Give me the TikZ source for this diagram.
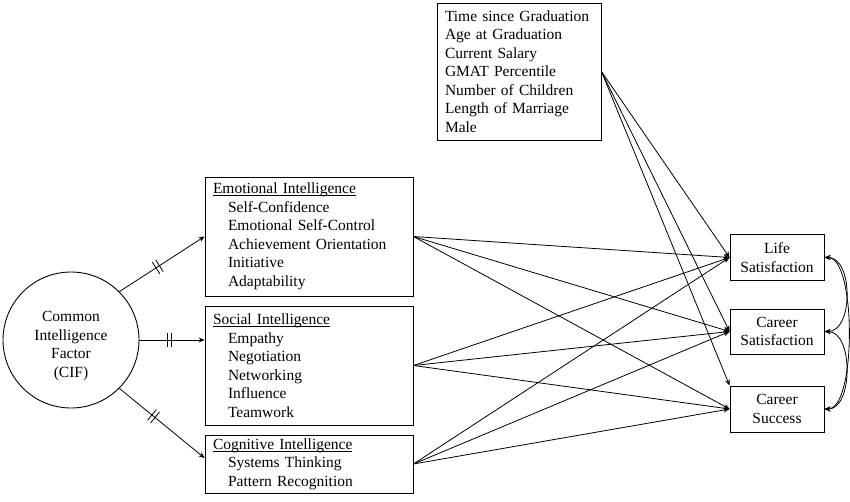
\documentclass[tikz,border=0pt]{standalone}
\usepackage{fontspec}
\setmainfont{Liberation Serif}
\usetikzlibrary{arrows.meta}
\newcommand\ulx[1]{\setbox0\hbox{#1}\rlap{\vrule height -1.4pt depth 2.3pt width \wd0}\box0}
\begin{document}
\begin{tikzpicture}[x=1pt,y=-1pt,
  txt/.style={font=\fontsize{15.5}{18.5}\selectfont},
  box/.style={draw, line width=0.9pt, rectangle, inner xsep=8pt, inner ysep=0pt, align=left, txt},
  rbox/.style={draw, line width=0.9pt, rectangle, inner sep=0pt, align=center, txt, minimum width=94pt},
  arr/.style={-{Stealth[length=6pt,width=5pt]}, line width=0.8pt},
  dbl/.style={{Stealth[length=6pt,width=5pt]}-{Stealth[length=6pt,width=5pt]}, line width=0.8pt},
  dtick/.pic={\draw[-, line width=0.8pt] (-2,-7) -- (-2,7) (2,-7) -- (2,7);}
]
\useasboundingbox (0,0) rectangle (850,502);

\node[draw, circle, line width=0.9pt, minimum size=136pt, inner sep=0pt] (cif) at (71,340) {};
\node[align=center, txt, inner sep=0pt] (ciftxt) at (71,346)
  {Common\\Intelligence\\Factor\\(CIF)};

\node[box, text width=192pt, minimum height=119pt] (emo) at (309,236.5)
  {\ulx{Emotional Intelligence}\\
   \hspace*{15pt}Self-Confidence\\
   \hspace*{15pt}Emotional Self-Control\\
   \hspace*{15pt}Achievement Orientation\\
   \hspace*{15pt}Initiative\\
   \hspace*{15pt}Adaptability};

\node[box, text width=192pt, minimum height=119pt] (soc) at (309,365.5)
  {\ulx{Social Intelligence}\\
   \hspace*{15pt}Empathy\\
   \hspace*{15pt}Negotiation\\
   \hspace*{15pt}Networking\\
   \hspace*{15pt}Influence\\
   \hspace*{15pt}Teamwork};

\node[box, text width=192pt, minimum height=58pt] (cog) at (309,464)
  {\ulx{Cognitive Intelligence}\\
   \hspace*{15pt}Systems Thinking\\
   \hspace*{15pt}Pattern Recognition};

\node[box, text width=148pt, minimum height=137pt] (ctl) at (519,71.5)
  {Time since Graduation\\
   Age at Graduation\\
   Current Salary\\
   GMAT Percentile\\
   Number of Children\\
   Length of Marriage\\
   Male};

\node[rbox, minimum height=46pt] (life) at (777,257.5) {Life\\Satisfaction};
\node[rbox, minimum height=45pt] (csat) at (777,331.5) {Career\\Satisfaction};
\node[rbox, minimum height=46pt] (succ) at (777,409) {Career\\Success};

% CIF to intelligences
\draw[arr] (cif.45) -- (emo.west) pic[pos=0.45, sloped]{dtick};
\draw[arr] (cif.east) -- (cif.east -| soc.west) pic[pos=0.46, sloped]{dtick};
\draw[arr] (cif.-45) -- ([yshift=6pt]cog.west) pic[pos=0.4, sloped]{dtick};

% intelligences to outcomes
\foreach \s in {emo,soc,cog}{
  \draw[arr] (\s.east) -- (life.west);
  \draw[arr] (\s.east) -- (csat.west);
  \draw[arr] (\s.east) -- (succ.west);
}

% controls to outcomes
\draw[arr] (ctl.east) -- (life.west);
\draw[arr] (ctl.east) -- (csat.west);
\draw[arr] (ctl.east) -- (succ.north west);

% correlations among outcomes
\draw[dbl] (life.east) .. controls +(29,0) and +(29,0) .. (csat.east);
\draw[dbl] (csat.east) .. controls +(29,0) and +(29,0) .. (succ.east);
\draw[dbl] (life.east) .. controls +(32,0) and +(32,0) .. (succ.east);
\end{tikzpicture}
\end{document}
